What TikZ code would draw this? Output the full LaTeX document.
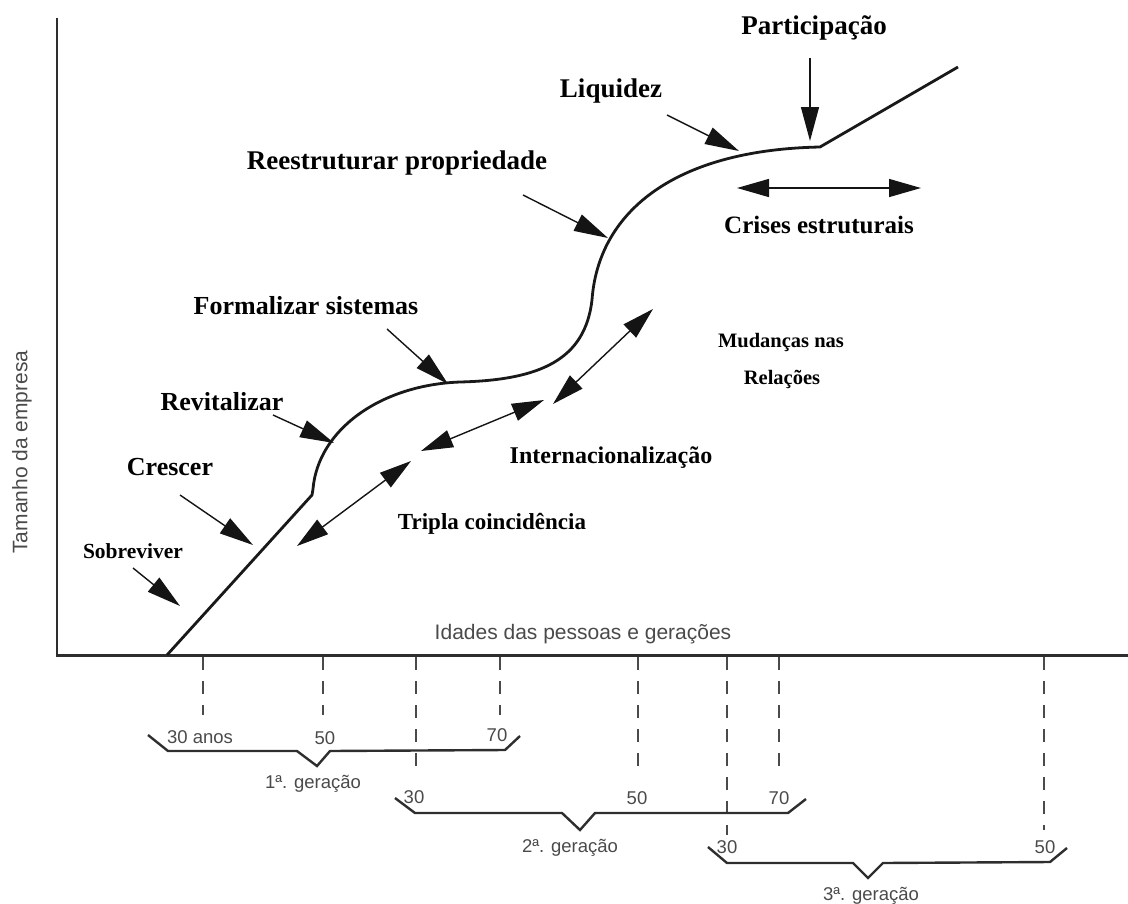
\documentclass[tikz,border=0pt]{standalone}
\usepackage{fontspec}
\setmainfont{Liberation Serif}
\newfontfamily\labelsans{Liberation Sans}
\usetikzlibrary{arrows.meta}
\definecolor{ink}{HTML}{4A4A4A}
\definecolor{rule}{HTML}{2E2E2E}
\begin{document}
\begin{tikzpicture}[x=1pt,y=-1pt,
  stage/.style={font=\bfseries\fontsize{#1}{#1}\selectfont, inner sep=0pt, anchor=base},
  stage/.default=26,
  axislabel/.style={font=\labelsans\fontsize{21}{24}\selectfont, text=ink, inner sep=0pt, anchor=base},
  agelabel/.style={font=\labelsans\fontsize{18.5}{22}\selectfont, text=ink, inner sep=0pt, anchor=base},
  pointer/.style={line width=1.4pt, draw=black!92, -{Triangle[length=34pt,width=18pt]}},
  twoway/.style={line width=1.4pt, draw=black!92, {Triangle[length=32pt,width=18pt]}-{Triangle[length=32pt,width=18pt]}},
  growth/.style={line width=2.8pt, line join=round, draw=black!90},
  guide/.style={line width=1.5pt, draw=ink, dash pattern=on 13pt off 11pt},
  genbrace/.style={line width=2.4pt, draw=rule, line join=miter},
]
\useasboundingbox (0,0) rectangle (1128,903);

% axes
\draw[line width=2.4pt, draw=rule] (57,18) -- (57,656);
\draw[line width=3pt, draw=rule] (56,655) -- (1128,655);
\node[axislabel, rotate=90, anchor=center] (ylab) at (22,452) {Tamanho da empresa};
\node[axislabel] (xlab) at (583,639) {Idades das pessoas e gerações};

% growth curve
\draw[growth] (167,655) -- (312,495) -- (313,489)
  .. controls (318,430) and (380,385) .. (460,382)
  .. controls (540,380) and (585,360) .. (592,300)
  .. controls (598,215) and (670,150) .. (820,147)
  -- (958,67);

% stage labels
\node[stage=27] (part) at (814,34) {Participação};
\node[stage=27] (liq) at (611,97) {Liquidez};
\node[stage=27] (reest) at (397,169) {Reestruturar propriedade};
\node[stage=25] (crises) at (819,233) {Crises estruturais};
\node[stage=26] (form) at (306,314) {Formalizar sistemas};
\node[stage=20.5] (mud) at (781,347) {Mudanças nas};
\node[stage=20.5] (rel) at (782,384) {Relações};
\node[stage=26] (revit) at (222,410) {Revitalizar};
\node[stage=24] (inter) at (611,463) {Internacionalização};
\node[stage=26] (cresc) at (170,475) {Crescer};
\node[stage=23] (tripla) at (492,529) {Tripla coincidência};
\node[stage=21.5] (sobre) at (133,558) {Sobreviver};

% pointer ends
\coordinate (sobreA) at (133,568);  \coordinate (sobreB) at (180,606);
\coordinate (crescA) at (180,495);  \coordinate (crescB) at (253,545);
\coordinate (revitA) at (273,415);  \coordinate (revitB) at (334,443);
\coordinate (formA) at (387,329);   \coordinate (formB) at (448,384);
\coordinate (reestA) at (523,195);  \coordinate (reestB) at (608,238);
\coordinate (liqA) at (667,115);    \coordinate (liqB) at (739,151);
\coordinate (partA) at (810,58);    \coordinate (partB) at (810,141);
\coordinate (crisesA) at (737,188); \coordinate (crisesB) at (921,188);
\coordinate (mudA) at (553,404);    \coordinate (mudB) at (653,309);
\coordinate (interA) at (421,451);  \coordinate (interB) at (544,400);
\coordinate (triplaA) at (297,546); \coordinate (triplaB) at (411,461);

\draw[pointer] (sobreA) -- (sobreB);
\draw[pointer] (crescA) -- (crescB);
\draw[pointer] (revitA) -- (revitB);
\draw[pointer] (formA) -- (formB);
\draw[pointer] (reestA) -- (reestB);
\draw[pointer] (liqA) -- (liqB);
\draw[pointer] (partA) -- (partB);
\draw[twoway] (crisesA) -- (crisesB);
\draw[twoway] (mudA) -- (mudB);
\draw[twoway] (interA) -- (interB);
\draw[twoway] (triplaA) -- (triplaB);

% age guides below the axis
\draw[guide] (203,657) -- (203,715);
\draw[guide] (323,657) -- (323,715);
\draw[guide] (416,657) -- (416,767);
\draw[guide] (500,657) -- (500,715);
\draw[guide] (638,657) -- (638,767);
\draw[guide] (727,657) -- (727,835);
\draw[guide] (779,657) -- (779,767);
\draw[guide] (1044,657) -- (1044,830);

% generation braces
\draw[genbrace] (148,735) -- (168,751) -- (297,751) -- (317,766) -- (330,751) -- (505,750) -- (520,736);
\draw[genbrace] (395,798) -- (415,813) -- (562,813) -- (580,830) -- (595,813) -- (788,813) -- (806,799);
\draw[genbrace] (708,847) -- (727,863) -- (853,863) -- (868,878) -- (883,863) -- (1050,862) -- (1067,848);

% ages and generations
\node[agelabel] (g1a) at (200,743) {30 anos};
\node[agelabel] (g1b) at (325,744) {50};
\node[agelabel] (g1c) at (497,741) {70};
\node[agelabel] (g1) at (313,788) {1ª. geração};
\node[agelabel] (g2a) at (414,803) {30};
\node[agelabel] (g2b) at (637,804) {50};
\node[agelabel] (g2c) at (779,804) {70};
\node[agelabel] (g2) at (570,852) {2ª. geração};
\node[agelabel] (g3a) at (727,853) {30};
\node[agelabel] (g3b) at (1045,853) {50};
\node[agelabel] (g3) at (871,900) {3ª. geração};
\end{tikzpicture}
\end{document}
